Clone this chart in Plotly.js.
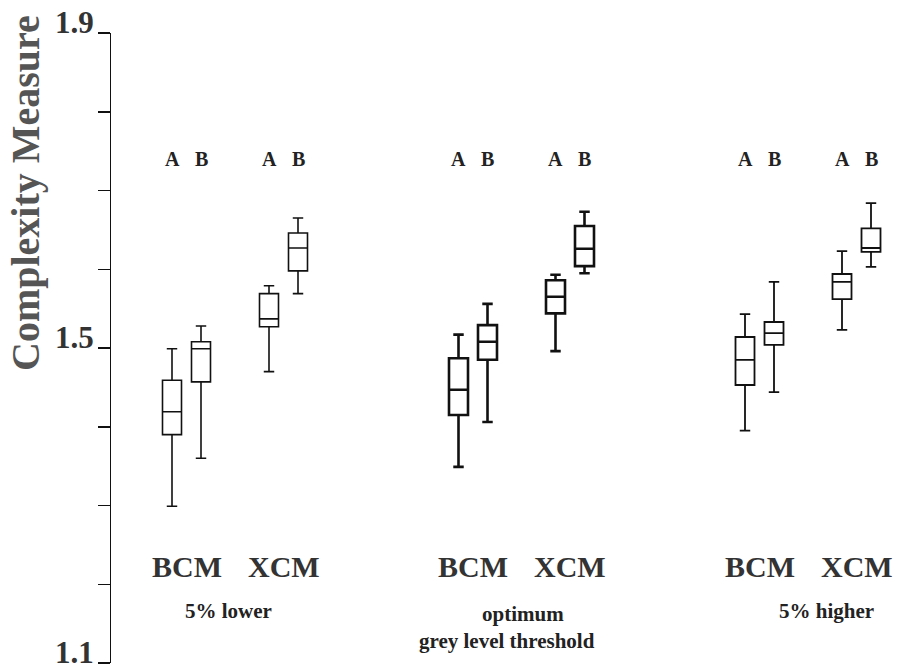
<!DOCTYPE html>
<html>
<head>
<meta charset="utf-8">
<script src="https://cdn.plot.ly/plotly-3.0.1.min.js"></script>
<style>html,body{margin:0;padding:0;background:#fff;}#chart{width:908px;height:669px;}</style>
</head>
<body>
<div id="chart"></div>
<script>
// ---- data ----
const groups = ['5% lower', 'optimum', '5% higher'];
const methods = ['BCM', 'XCM'];
const variants = ['A', 'B'];
// order inside each group: BCM-A, BCM-B, XCM-A, XCM-B
const lowerWhisker = [1.299, 1.360, 1.470, 1.569,  1.349, 1.406, 1.496, 1.595,  1.395, 1.444, 1.523, 1.603];
const q1Values     = [1.390, 1.457, 1.527, 1.598,  1.415, 1.485, 1.544, 1.604,  1.453, 1.504, 1.562, 1.622];
const medianValues = [1.419, 1.499, 1.537, 1.627,  1.447, 1.508, 1.565, 1.626,  1.485, 1.519, 1.584, 1.627];
const q3Values     = [1.459, 1.508, 1.569, 1.646,  1.487, 1.529, 1.586, 1.655,  1.514, 1.533, 1.594, 1.652];
const upperWhisker = [1.499, 1.528, 1.579, 1.665,  1.517, 1.556, 1.593, 1.673,  1.543, 1.584, 1.623, 1.684];
const yTickVals = [1.1, 1.2, 1.3, 1.4, 1.5, 1.6, 1.7, 1.8, 1.9];
const yLabelVals = [1.1, 1.5, 1.9];
const yLabelText = ['1.1', '1.5', '1.9'];
const yTitle = 'Complexity Measure';
const groupLabels = [['5% lower'], ['optimum', 'grey level threshold'], ['5% higher']];

// ---- layout constants (pixel-like x axis) ----
const X0 = 172, GROUP_STEP = 286.5, METHOD_STEP = 97, VARIANT_STEP = 29;
const lineW = [1.6, 2.6, 1.8];
const serif = "'Liberation Serif', 'Times New Roman', Times, serif";
const PLOT_L = 111, PLOT_T = 33, PLOT_B = 663, PLOT_R = 908;
const W = PLOT_R - PLOT_L, H = PLOT_B - PLOT_T;

function xPos(g, m, v) { return X0 + g * GROUP_STEP + m * METHOD_STEP + v * VARIANT_STEP; }

const traces = [];
const annotations = [];
groups.forEach((gName, g) => {
  const xs = [], lf = [], q1 = [], med = [], q3 = [], uf = [];
  methods.forEach((mName, m) => {
    variants.forEach((vName, v) => {
      const i = g * 4 + m * 2 + v;
      const x = xPos(g, m, v);
      xs.push(x); lf.push(lowerWhisker[i]); q1.push(q1Values[i]);
      med.push(medianValues[i]); q3.push(q3Values[i]); uf.push(upperWhisker[i]);
      annotations.push({x: x, y: 1.74, xref: 'x', yref: 'y', text: vName, showarrow: false,
        font: {family: serif, size: 20, color: '#222', weight: 'bold'}, xanchor: 'center', yanchor: 'middle'});
    });
    annotations.push({x: xPos(g, m, 0) + VARIANT_STEP / 2, y: 1.222, xref: 'x', yref: 'y', text: mName,
      showarrow: false, font: {family: serif, size: 30, color: '#333', weight: 'bold'}, xanchor: 'center', yanchor: 'middle'});
  });
  traces.push({
    type: 'box', name: gName, x: xs, q1: q1, median: med, q3: q3,
    lowerfence: lf, upperfence: uf, boxpoints: false, width: 19, whiskerwidth: 0.55,
    line: {color: '#111', width: lineW[g]}, fillcolor: 'rgba(255,255,255,0)',
    hoverinfo: 'skip', showlegend: false
  });
});
// group labels
const groupLabelPos = [[{x: 228, y: 1.166}], [{x: 523, y: 1.162}, {x: 507, y: 1.128}], [{x: 826, y: 1.166}]];
groupLabels.forEach((lines, g) => {
  lines.forEach((t, k) => {
    const p = groupLabelPos[g][k];
    annotations.push({x: p.x, y: p.y, xref: 'x', yref: 'y', text: t, showarrow: false,
      font: {family: serif, size: 21, color: '#222', weight: 'bold'}, xanchor: 'center', yanchor: 'middle'});
  });
});
// y tick labels (sitting just above their ticks, as in the reference)
yLabelVals.forEach((v, k) => {
  annotations.push({x: (96 - PLOT_L) / W, y: v, xref: 'paper', yref: 'y', text: yLabelText[k],
    showarrow: false, xanchor: 'right', yanchor: 'middle', yshift: 11,
    font: {family: serif, size: 31, color: '#333', weight: 'bold'}});
});
// y-axis title
annotations.push({
  x: (25 - PLOT_L) / W, y: (PLOT_B - 193) / H,
  xref: 'paper', yref: 'paper', text: yTitle, showarrow: false, textangle: -90,
  xanchor: 'center', yanchor: 'middle',
  font: {family: serif, size: 40, color: '#555', weight: 'bold'}
});

const layout = {
  width: 908, height: 669,
  margin: {l: PLOT_L, r: 908 - PLOT_R, t: PLOT_T, b: 669 - PLOT_B, pad: 0},
  paper_bgcolor: '#fff', plot_bgcolor: '#fff',
  showlegend: false,
  xaxis: {range: [PLOT_L, PLOT_R], visible: false, showgrid: false, zeroline: false, fixedrange: true},
  yaxis: {
    range: [1.1, 1.9], tickmode: 'array', tickvals: yTickVals, showticklabels: false,
    ticks: 'outside', ticklen: 12, tickwidth: 1.5, tickcolor: '#111',
    showline: true, linecolor: '#111', linewidth: 1.5,
    showgrid: false, zeroline: false
  },
  annotations: annotations
};

Plotly.newPlot('chart', traces, layout, {displayModeBar: false, staticPlot: true});
</script>
</body>
</html>
